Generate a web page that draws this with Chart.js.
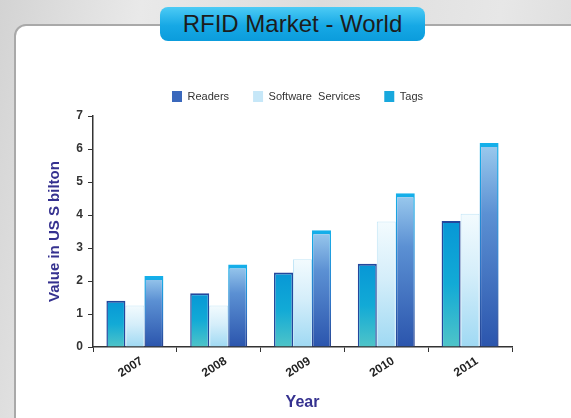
<!DOCTYPE html>
<html><head><meta charset="utf-8">
<script src="https://cdn.jsdelivr.net/npm/chart.js@4"></script>
<style>
html,body{margin:0;padding:0;width:571px;height:418px;overflow:hidden;}
body{background:linear-gradient(100deg,#d3d3d3 0%,#e9e9e9 22%,#dcdcdc 50%,#e7e7e7 78%,#d8d8d8 100%);position:relative;font-family:'Liberation Sans',Arial,sans-serif;}
#panel{position:absolute;left:14px;top:24px;right:-30px;bottom:-30px;background:#fff;border:2px solid #a9a9a9;border-radius:12px;}
#badge{position:absolute;left:160px;top:7px;width:265px;height:34px;border-radius:8px;background:linear-gradient(#4ccbf5,#16a8e5 55%,#0b9cdc);color:#1c1c1c;font-size:24px;line-height:34px;text-align:center;}
#c{position:absolute;left:0;top:0;}
</style></head><body>
<div id="panel"></div>
<div id="badge">RFID Market - World</div>
<canvas id="c" width="571" height="418"></canvas>
<script>
const years = ['2007', '2008', '2009', '2010', '2011'];
const tags = [1.40, 1.63, 2.26, 2.52, 3.82];
const software = [1.26, 1.26, 2.66, 3.80, 4.04];
const readers = [2.15, 2.50, 3.54, 4.66, 6.18];
const yTicks = [0, 1, 2, 3, 4, 5, 6, 7];

const titleColor = '#35318f';
const legendColors = ['#18a8dd', '#c6e7f8', '#3a68bc'];

function barGrad(stops, flat) {
  return function (ctx) {
    if (ctx.type !== 'data') return flat;
    const chart = ctx.chart, y = chart.scales.y;
    if (!y || !chart.chartArea) return flat;
    const top = y.getPixelForValue(ctx.raw), base = y.getPixelForValue(0);
    if (!isFinite(top) || !isFinite(base) || top === base) return flat;
    const g = chart.ctx.createLinearGradient(0, top, 0, base);
    stops.forEach(s => g.addColorStop(s[0], s[1]));
    return g;
  };
}

const legendShift = {
  id: 'legendShift',
  afterLayout(chart) {
    const l = chart.legend;
    if (!l) return;
    const dx = -5, dy = -4;
    l.left += dx; l.right += dx; l.top += dy; l.bottom += dy;
  }
};

new Chart(document.getElementById('c'), {
  type: 'bar',
  data: {
    labels: years,
    datasets: [
      {
        label: 'Tags', data: tags,
        backgroundColor: barGrad([[0, '#0797d6'], [0.5, '#12aad6'], [1, '#4fc4c8']], legendColors[0]),
        borderColor: '#24479c',
        borderWidth: {top: 2, left: 1.5, right: 1.5, bottom: 0},
        borderSkipped: 'start'
      },
      {
        label: 'Software  Services', data: software,
        backgroundColor: barGrad([[0, '#f3fbfe'], [0.45, '#d5eefa'], [1, '#9fd9f3']], legendColors[1]),
        borderColor: '#c3e6f7',
        borderWidth: {top: 1, left: 1, right: 1, bottom: 0},
        borderSkipped: 'start'
      },
      {
        label: 'Readers', data: readers,
        backgroundColor: barGrad([[0, '#9ccbee'], [0.35, '#5b90d3'], [1, '#2b55ad']], legendColors[2]),
        borderColor: barGrad([[0, '#14b0ea'], [0.6, '#2e76c8'], [1, '#27418f']], '#1aaee6'),
        borderWidth: {top: 4, left: 1.5, right: 1.5, bottom: 0},
        borderSkipped: 'start'
      }
    ]
  },
  options: {
    responsive: false,
    animation: false,
    layout: {padding: {left: 42, right: 59, top: 71, bottom: 4}},
    datasets: {bar: {categoryPercentage: 0.68, barPercentage: 1.0}},
    plugins: {
      tooltip: {enabled: false},
      legend: {
        position: 'top',
        fullSize: false,
        labels: {
          boxWidth: 10, boxHeight: 11, padding: 24,
          color: '#333',
          font: {family: "'Liberation Sans',Arial,sans-serif", size: 11},
          sort: (a, b) => b.datasetIndex - a.datasetIndex,
          generateLabels(chart) {
            const items = Chart.defaults.plugins.legend.labels.generateLabels(chart);
            items.forEach(i => { i.lineWidth = 0; i.fillStyle = legendColors[i.datasetIndex]; });
            return items;
          }
        }
      }
    },
    scales: {
      x: {
        grid: {display: true, drawOnChartArea: false, drawTicks: true, tickLength: 5, color: '#333', offset: true},
        border: {display: true, color: '#333', width: 1.5},
        ticks: {color: '#222', font: {family: "'Liberation Sans',Arial,sans-serif", size: 12, weight: 'bold'},
                minRotation: 33, maxRotation: 33, padding: 2, labelOffset: 7},
        title: {display: true, text: 'Year', color: titleColor,
                font: {family: "'Liberation Sans',Arial,sans-serif", size: 16, weight: 'bold'}, padding: {top: 4, bottom: 2}},
        afterFit(scale) { scale.height = 67; }
      },
      y: {
        min: yTicks[0], max: yTicks[yTicks.length - 1],
        afterBuildTicks(scale) { scale.ticks = yTicks.map(v => ({value: v})); },
        grid: {display: true, drawOnChartArea: false, drawTicks: true, tickLength: 5, color: '#333'},
        border: {display: true, color: '#333', width: 1.5},
        ticks: {color: '#333', padding: 5, font: {family: "'Liberation Sans',Arial,sans-serif", size: 12, weight: 'bold'}},
        title: {display: true, text: 'Value in US S bilton', color: titleColor,
                font: {family: "'Liberation Sans',Arial,sans-serif", size: 15, weight: 'bold'}, padding: 4},
        afterFit(scale) { scale.width = 51; }
      }
    }
  },
  plugins: [legendShift]
});
</script>
</body></html>
